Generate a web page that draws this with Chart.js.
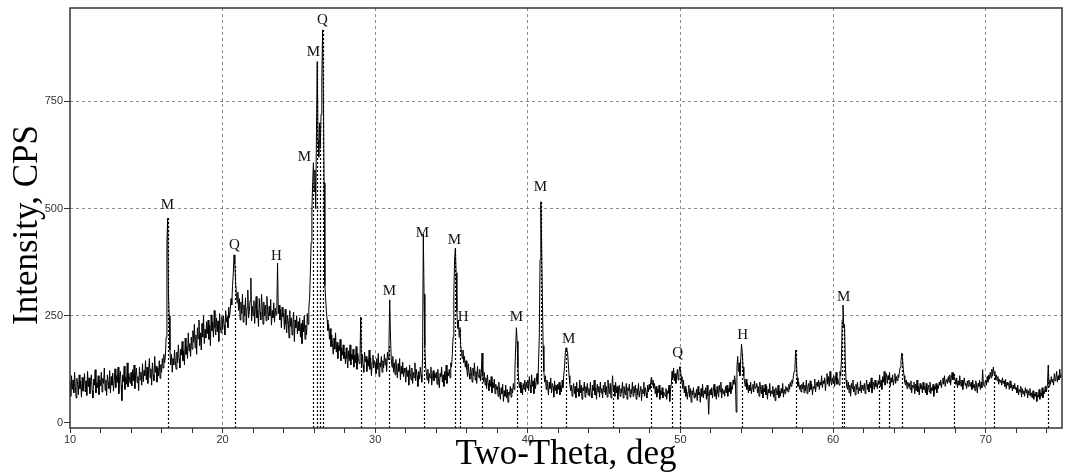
<!DOCTYPE html>
<html lang="en">
<head>
    <meta charset="UTF-8">
    <title>XRD pattern</title>
    <style>
        body { margin: 0; background: #fff; }
        .chart-box { width: 1068px; height: 475px; }
    </style>
</head>
<body>

<div class="chart-box">
    <canvas id="xrdChart"></canvas>
</div>

<script src="https://cdn.jsdelivr.net/npm/chart.js"></script>
<script>
    // scan: 10 to 75 deg, one reading every 0.05 deg (20 per row, row = start degree)
    const thetaStart = 10;
    const thetaStep = 0.05;
    const intensity = [
        95, 62, 110, 78, 100, 70, 118, 85, 58, 104, 90, 66, 112, 80, 97, 60, 106, 74, 92, 115,            // 10
        72, 98, 64, 120, 84, 105, 68, 96, 112, 75, 58, 102, 88, 124, 70, 94, 82, 110, 66, 100,            // 11
        86, 118, 72, 104, 92, 128, 76, 100, 64, 112, 95, 80, 122, 70, 108, 88, 116, 74, 98, 126,          // 12
        82, 110, 94, 130, 68, 105, 120, 88, 52, 112, 96, 132, 78, 106, 90, 140, 84, 116, 102, 92,         // 13
        118, 86, 124, 98, 135, 80, 112, 128, 94, 108, 75, 130, 100, 118, 88, 138, 96, 122, 110, 145,      // 14
        100, 130, 92, 122, 150, 105, 126, 88, 140, 112, 98, 155, 118, 132, 95, 128, 110, 145, 104, 136,   // 15
        118, 150, 128, 160, 140, 155, 200, 420, 478, 300, 250, 170, 135, 160, 118, 150, 135, 170, 145, 125, // 16
        165, 140, 182, 150, 128, 172, 158, 190, 145, 168, 135, 198, 160, 178, 150, 210, 168, 185, 155, 200, // 17
        172, 215, 188, 230, 175, 205, 160, 222, 196, 240, 180, 210, 170, 232, 200, 250, 185, 218, 198, 236, // 18
        208, 240, 195, 228, 180, 252, 215, 235, 200, 262, 222, 205, 245, 212, 238, 190, 255, 225, 210, 248, // 19
        218, 250, 228, 205, 262, 235, 248, 222, 270, 245, 262, 290, 275, 320, 350, 392, 370, 330, 300, 280, // 20
        305, 262, 290, 240, 282, 255, 300, 235, 275, 250, 292, 228, 268, 310, 245, 260, 285, 338, 238, 272, // 21
        250, 285, 232, 270, 295, 245, 262, 225, 290, 258, 240, 300, 268, 230, 282, 250, 275, 238, 295, 262, // 22
        240, 272, 250, 288, 228, 262, 245, 280, 235, 268, 252, 262, 373, 255, 275, 240, 265, 222, 270, 248, // 23
        255, 218, 265, 230, 210, 250, 238, 198, 262, 225, 245, 205, 232, 258, 190, 240, 222, 250, 208, 236, // 24
        215, 245, 200, 232, 185, 240, 212, 250, 195, 228, 205, 255, 230, 268, 290, 350, 420, 500, 560, 607, // 25
        540, 590, 500, 680, 843, 660, 620, 700, 640, 720, 800, 917, 777, 560, 320, 290, 260, 240, 215, 230, // 26
        195, 220, 178, 205, 185, 160, 198, 172, 210, 165, 188, 150, 180, 168, 195, 145, 175, 158, 182, 150, // 27
        165, 138, 175, 150, 128, 168, 145, 182, 135, 160, 148, 172, 130, 158, 140, 178, 125, 162, 150, 138, // 28
        150, 247, 128, 160, 135, 118, 165, 142, 155, 120, 148, 132, 170, 125, 152, 110, 140, 158, 128, 145, // 29
        138, 115, 150, 125, 162, 108, 140, 130, 155, 118, 145, 128, 160, 135, 150, 120, 165, 148, 180, 287, // 30
        200, 150, 130, 155, 118, 140, 112, 148, 125, 105, 138, 120, 150, 100, 132, 115, 142, 108, 128, 118, // 31
        95, 130, 108, 122, 88, 135, 115, 100, 128, 92, 118, 105, 140, 98, 125, 110, 85, 120, 102, 130,     // 32
        112, 95, 150, 440, 300, 180, 130, 118, 100, 125, 92, 115, 105, 130, 88, 110, 122, 98, 115, 105,    // 33
        118, 90, 125, 100, 82, 115, 108, 130, 95, 112, 85, 120, 100, 135, 92, 118, 110, 125, 105, 140,     // 34
        130, 160, 200, 300, 380, 408, 350, 260, 220, 240, 200, 222, 180, 165, 150, 170, 140, 155, 130, 145, // 35
        125, 108, 138, 115, 102, 130, 118, 95, 128, 110, 140, 100, 120, 92, 132, 112, 105, 125, 98, 115,   // 36
        163, 110, 95, 118, 88, 105, 80, 112, 92, 75, 100, 85, 108, 70, 95, 82, 102, 68, 90, 78,            // 37
        85, 62, 95, 70, 55, 82, 68, 90, 50, 75, 62, 88, 58, 78, 48, 72, 65, 85, 60, 80,                   // 38
        70, 92, 78, 120, 175, 222, 190, 130, 100, 82, 95, 70, 88, 65, 92, 78, 100, 72, 95, 82,            // 39
        100, 75, 108, 88, 70, 112, 85, 98, 68, 105, 80, 95, 115, 90, 140, 200, 380, 516, 420, 300,        // 40
        180, 120, 95, 110, 78, 100, 85, 65, 95, 80, 105, 70, 92, 85, 60, 98, 75, 88, 68, 90,              // 41
        78, 95, 65, 88, 72, 100, 82, 110, 130, 160, 175, 170, 165, 140, 110, 92, 75, 88, 62, 80,          // 42
        92, 68, 85, 58, 95, 72, 80, 62, 100, 70, 88, 55, 82, 75, 95, 60, 85, 70, 92, 65,                  // 43
        80, 62, 95, 70, 58, 88, 75, 100, 65, 82, 55, 90, 72, 85, 60, 95, 70, 80, 58, 88,                  // 44
        72, 95, 65, 85, 60, 100, 78, 68, 92, 58, 82, 110, 75, 88, 62, 95, 70, 85, 55, 80,                 // 45
        88, 62, 80, 70, 95, 58, 85, 72, 65, 92, 55, 82, 75, 90, 60, 78, 68, 95, 62, 85,                   // 46
        70, 88, 55, 80, 65, 92, 60, 75, 85, 52, 78, 68, 95, 62, 82, 70, 58, 88, 72, 90,                   // 47
        78, 95, 107, 88, 100, 80, 92, 68, 85, 60, 78, 70, 88, 55, 75, 65, 82, 58, 72, 68,                 // 48
        62, 80, 55, 75, 68, 88, 50, 78, 90, 120, 105, 128, 98, 115, 92, 110, 125, 100, 118, 131,          // 49
        122, 108, 95, 80, 100, 70, 85, 62, 78, 55, 72, 88, 60, 80, 48, 75, 65, 82, 58, 70,                // 50
        60, 78, 52, 85, 65, 72, 48, 80, 62, 90, 58, 75, 68, 82, 55, 88, 62, 20, 70, 78,                   // 51
        65, 82, 58, 75, 90, 62, 78, 55, 85, 70, 60, 88, 72, 95, 58, 80, 68, 76, 62, 85,                   // 52
        70, 88, 62, 80, 72, 95, 68, 85, 78, 100, 90, 110, 95, 25, 130, 155, 120, 140, 110, 150,           // 53
        184, 165, 130, 110, 95, 85, 102, 78, 92, 70, 88, 75, 95, 68, 82, 90, 72, 98, 80, 85,              // 54
        92, 70, 85, 62, 95, 78, 68, 88, 58, 80, 72, 90, 65, 85, 55, 78, 70, 92, 62, 75,                   // 55
        68, 85, 60, 78, 52, 82, 70, 65, 88, 58, 75, 62, 80, 70, 92, 60, 78, 68, 85, 75,                   // 56
        82, 72, 90, 78, 95, 85, 100, 92, 110, 120, 130, 170, 140, 105, 85, 95, 78, 88, 72, 90,            // 57
        80, 95, 70, 88, 75, 100, 68, 85, 92, 72, 98, 78, 90, 65, 85, 80, 102, 72, 88, 95,                 // 58
        85, 100, 78, 95, 88, 110, 82, 98, 92, 105, 75, 100, 115, 90, 108, 85, 120, 98, 88, 105,           // 59
        92, 110, 85, 100, 118, 90, 105, 95, 88, 120, 110, 150, 240, 275, 222, 230, 140, 100, 85, 78,      // 60
        95, 70, 88, 62, 92, 80, 100, 72, 85, 65, 90, 78, 95, 68, 82, 75, 98, 70, 88, 80,                  // 61
        75, 92, 68, 85, 100, 78, 90, 72, 95, 82, 105, 70, 88, 95, 78, 100, 85, 92, 80, 98,                // 62
        90, 112, 85, 100, 78, 108, 95, 120, 88, 105, 115, 92, 110, 100, 118, 85, 105, 95, 112, 88,        // 63
        100, 115, 92, 108, 98, 112, 105, 120, 130, 145, 163, 150, 125, 110, 95, 88, 100, 80, 95, 85,      // 64
        92, 78, 98, 70, 88, 82, 95, 68, 90, 75, 100, 72, 85, 65, 92, 80, 88, 70, 95, 78,                  // 65
        85, 70, 92, 65, 80, 88, 72, 95, 68, 82, 75, 90, 62, 85, 78, 92, 70, 88, 80, 95,                   // 66
        88, 100, 82, 95, 105, 90, 110, 85, 98, 102, 92, 108, 95, 112, 88, 105, 118, 100, 115, 108,        // 67
        100, 90, 105, 82, 98, 88, 110, 92, 85, 100, 78, 95, 105, 88, 92, 80, 98, 85, 100, 90,             // 68
        85, 95, 78, 100, 82, 90, 75, 98, 88, 70, 92, 85, 100, 78, 95, 82, 124, 90, 85, 95,                // 69
        100, 88, 108, 95, 112, 102, 118, 105, 125, 110, 130, 115, 120, 100, 112, 98, 108, 90, 102, 95,    // 70
        100, 88, 105, 92, 98, 85, 102, 80, 95, 88, 92, 78, 98, 82, 90, 75, 88, 80, 92, 78,                // 71
        82, 70, 88, 65, 78, 72, 85, 60, 80, 68, 75, 62, 82, 70, 78, 58, 75, 65, 80, 62,                   // 72
        70, 58, 75, 55, 68, 62, 72, 50, 65, 60, 78, 55, 70, 62, 82, 58, 75, 68, 85, 72,                   // 73
        78, 92, 135, 85, 100, 90, 108, 95, 102, 88, 115, 98, 105, 120, 95, 110, 100, 125, 105, 112,       // 74
        110                                                                                              // 75
    ];

    // dotted reference lines under identified reflections
    const markerTheta = [16.4, 20.8, 25.9, 26.2, 26.35, 26.55, 29.05, 30.9, 33.2, 35.25, 35.55,
        37.0, 39.3, 40.85, 42.5, 45.6, 48.1, 49.45, 49.95, 54.05, 57.55, 60.6, 60.7,
        63.0, 63.65, 64.5, 67.9, 70.55, 74.1];

    // phase letters (M, Q, H) and where they sit
    const labelText = ['M', 'Q', 'H', 'M', 'M', 'Q', 'M', 'M', 'M', 'H', 'M', 'M', 'M', 'Q', 'H', 'M'];
    const labelTheta = [16.38, 20.77, 23.52, 25.36, 25.95, 26.54, 30.93, 33.09, 35.19, 35.77, 39.25, 40.83, 42.67, 49.81, 54.07, 60.69];
    const labelCps = [509, 415, 390, 621, 866, 941, 308, 443, 427, 247, 247, 551, 196, 163, 205, 294];

    const xTickValues = [10, 12, 14, 16, 18, 20, 22, 24, 26, 28, 30, 32, 34, 36, 38, 40, 42, 44,
        46, 48, 50, 52, 54, 56, 58, 60, 62, 64, 66, 68, 70, 72, 74];
    const yTickValues = [0, 250, 500, 750];

    const points = intensity.map((v, i) => ({ x: thetaStart + i * thetaStep, y: v }));

    function nearestIntensity(theta) {
        const i = Math.round((theta - thetaStart) / thetaStep);
        return intensity[Math.max(0, Math.min(intensity.length - 1, i))];
    }

    const serif = '"Liberation Serif", "Times New Roman", serif';

    const xrdExtras = {
        id: 'xrdExtras',
        beforeDatasetsDraw(chart) {
            const { ctx, chartArea, scales } = chart;
            ctx.save();
            ctx.strokeStyle = '#000';
            ctx.lineWidth = 1.2;
            ctx.setLineDash([2, 2]);
            markerTheta.forEach(t => {
                const x = Math.round(scales.x.getPixelForValue(t)) + 0.5;
                ctx.beginPath();
                ctx.moveTo(x, chartArea.bottom);
                ctx.lineTo(x, scales.y.getPixelForValue(nearestIntensity(t)));
                ctx.stroke();
            });
            ctx.restore();
        },
        afterDraw(chart) {
            const { ctx, chartArea, scales } = chart;
            ctx.save();
            // frame
            ctx.strokeStyle = '#333';
            ctx.lineWidth = 1.5;
            ctx.strokeRect(chartArea.left, chartArea.top, chartArea.right - chartArea.left, chartArea.bottom - chartArea.top);
            // phase labels
            ctx.fillStyle = '#111';
            ctx.font = '15px ' + serif;
            ctx.textAlign = 'center';
            ctx.textBaseline = 'middle';
            labelText.forEach((s, i) => {
                ctx.fillText(s, scales.x.getPixelForValue(labelTheta[i]), scales.y.getPixelForValue(labelCps[i]));
            });
            // y axis title, baseline placed like the original
            ctx.fillStyle = '#000';
            ctx.font = '35px ' + serif;
            ctx.textBaseline = 'alphabetic';
            ctx.translate(37, 225);
            ctx.rotate(-Math.PI / 2);
            ctx.fillText('Intensity, CPS', 0, 0);
            ctx.restore();
        }
    };

    const tickFont = { family: '"Liberation Sans", Arial, sans-serif', size: 11 };

    new Chart(document.getElementById('xrdChart'), {
        type: 'line',
        data: {
            datasets: [{
                data: points,
                borderColor: '#000',
                borderWidth: 1,
                pointRadius: 0,
                tension: 0,
                fill: false
            }]
        },
        options: {
            responsive: true,
            maintainAspectRatio: false,
            animation: false,
            layout: { padding: { left: 0, right: 6, top: 8, bottom: 0 } },
            plugins: {
                legend: { display: false },
                tooltip: { enabled: false }
            },
            scales: {
                x: {
                    type: 'linear',
                    min: 10,
                    max: 75,
                    afterBuildTicks: s => { s.ticks = xTickValues.map(v => ({ value: v })); },
                    afterFit: s => { s.height = 47; },
                    ticks: {
                        autoSkip: false,
                        maxRotation: 0,
                        padding: 0,
                        color: '#333',
                        font: tickFont,
                        callback: v => (v % 10 === 0 ? v : '')
                    },
                    grid: {
                        color: c => (c.tick && c.tick.value % 10 === 0 && c.tick.value > 10) ? '#8c8c8c' : 'rgba(0,0,0,0)',
                        lineWidth: 1,
                        tickLength: 5,
                        tickColor: '#333',
                        tickBorderDash: []
                    },
                    border: { display: false, dash: [3, 3] },
                    title: {
                        display: true,
                        text: 'Two-Theta, deg',
                        color: '#000',
                        font: { family: serif, size: 35 },
                        padding: { top: 0, bottom: -1 }
                    }
                },
                y: {
                    min: -12,
                    max: 968,
                    afterBuildTicks: s => { s.ticks = yTickValues.map(v => ({ value: v })); },
                    afterFit: s => { s.width = 70; },
                    ticks: {
                        padding: 1,
                        color: '#333',
                        font: tickFont
                    },
                    grid: {
                        color: c => (c.tick && c.tick.value > 0) ? '#8c8c8c' : 'rgba(0,0,0,0)',
                        lineWidth: 1,
                        tickLength: 6,
                        tickColor: '#333',
                        tickBorderDash: []
                    },
                    border: { display: false, dash: [3, 3] }
                }
            }
        },
        plugins: [xrdExtras]
    });
</script>

</body>
</html>
